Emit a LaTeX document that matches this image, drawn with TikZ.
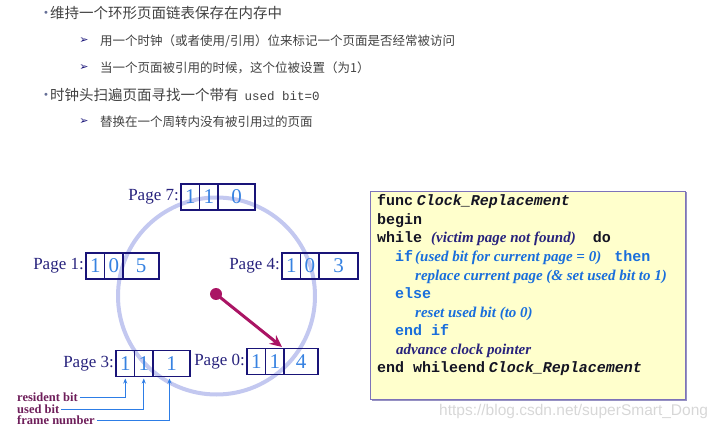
\documentclass[tikz,border=0pt]{standalone}
\usepackage{fontspec}
\setmainfont{Liberation Serif}
\setmonofont{Liberation Mono}
\newfontfamily\cjk{Noto Sans CJK SC}
\newfontfamily\dejavu{DejaVu Sans}
\newfontfamily\arialf{Liberation Sans}
\usetikzlibrary{arrows.meta}
\definecolor{navyc}{RGB}{40,35,125}
\definecolor{boxc}{RGB}{25,20,120}
\definecolor{digitc}{RGB}{55,130,225}
\definecolor{ringc}{RGB}{195,200,240}
\definecolor{ptrc}{RGB}{170,20,100}
\definecolor{bitc}{RGB}{110,30,90}
\definecolor{linkc}{RGB}{45,125,230}
\definecolor{codebg}{RGB}{255,255,204}
\definecolor{codeframe}{RGB}{125,115,185}
\definecolor{codeshadow}{RGB}{150,145,195}
\definecolor{kwc}{RGB}{20,20,35}
\definecolor{bluec}{RGB}{25,110,220}
\definecolor{textc}{RGB}{65,65,65}
\definecolor{bulletc}{RGB}{100,110,150}
\definecolor{wmc}{RGB}{215,215,215}
\newcommand{\pagecells}[8]{%
  \node[cell, minimum width=18.5pt] (#1a) at (#2,#3) {#4};
  \node[cell, minimum width=18.5pt] (#1b) at (#1a.east) {#5};
  \node[cell, minimum width=#8pt] (#1c) at (#1b.east) {#6};
  \node[plabel] (#1l) at (#1a.west) {#7};
}
\newcommand{\kwf}[1]{{\ttfamily\bfseries #1}}
\newcommand{\kwi}[1]{{\ttfamily\bfseries\itshape #1}}
\newcommand{\tbi}[1]{{\rmfamily\bfseries\itshape #1}}
\begin{document}
\begin{tikzpicture}[x=1pt,y=-1pt,
  cell/.style={draw=boxc, line width=1.6pt, minimum height=26pt, inner sep=0pt, outer sep=0pt, text=digitc, font=\fontsize{21}{21}\selectfont, anchor=west},
  plabel/.style={text=navyc, font=\fontsize{17}{17}\selectfont, inner sep=2pt, anchor=east},
  bitlabel/.style={text=bitc, font=\bfseries\fontsize{12.5}{12.5}\selectfont, inner sep=2pt, anchor=west},
  link/.style={draw=linkc, line width=0.9pt, -{Stealth[length=5pt,width=4pt]}},
  codeline/.style={anchor=base west, inner sep=0pt, font=\fontsize{15}{15}\selectfont},
  cjkmain/.style={anchor=west, inner sep=0pt, text=textc, font=\cjk\fontsize{14.5}{14.5}\selectfont},
  cjksub/.style={anchor=west, inner sep=0pt, text=textc, font=\cjk\fontsize{12.5}{12.5}\selectfont},
  dot/.style={anchor=center, inner sep=0pt, text=bulletc, font=\dejavu\fontsize{10}{10}\selectfont},
  arrowmark/.style={anchor=center, inner sep=0pt, text=boxc, font=\dejavu\fontsize{11}{11}\selectfont}
]
\useasboundingbox (0,0) rectangle (722,427);

% top text
\node[dot] (b1) at (46,14) {•};
\node[cjkmain] (t1) at (50,13) {维持一个环形页面链表保存在内存中};
\node[arrowmark] (a1) at (84,41) {➢};
\node[cjksub] (t2) at (100,41) {用一个时钟（或者使用/引用）位来标记一个页面是否经常被访问};
\node[arrowmark] (a2) at (84,68) {➢};
\node[cjksub] (t3) at (100,68) {当一个页面被引用的时候，这个位被设置（为1）};
\node[dot] (b2) at (46,96) {•};
\node[cjkmain] (t4) at (50,95) {时钟头扫遍页面寻找一个带有\hspace{0.4em}{\ttfamily\fontsize{12.5}{12.5}\selectfont used bit=0}};
\node[arrowmark] (a3) at (84,122) {➢};
\node[cjksub] (t5) at (100,122) {替换在一个周转内没有被引用过的页面};

% clock ring
\node[circle, draw=ringc, line width=4pt, minimum size=197pt, inner sep=0pt] (clock) at (216.5,296) {};

% pages
\pagecells{p7}{181}{197}{1}{1}{0}{Page 7:}{37}
\pagecells{p1}{86}{266}{1}{0}{5}{Page 1:}{36}
\pagecells{p4}{282}{266}{1}{0}{3}{Page 4:}{39}
\pagecells{p3}{116}{363.5}{1}{1}{1}{Page 3:}{37}
\pagecells{p0}{247}{361.5}{1}{1}{4}{Page 0:}{34}

% pointer
\node[circle, fill=ptrc, minimum size=12pt, inner sep=0pt] (hub) at (216,294) {};
\coordinate (tip) at (282,347);
\draw[ptrc, line width=3pt, -{Stealth[length=12pt,width=11pt]}] (hub.center) -- (tip);

% bit labels
\node[bitlabel] (rb) at (15,397.5) {resident bit};
\node[bitlabel] (ub) at (15,409.5) {used bit};
\node[bitlabel] (fn) at (15,420.5) {frame number};
\draw[link] (rb.east) -| ([yshift=-2pt]p3a.south);
\draw[link] (ub.east) -| ([yshift=-2pt]p3b.south);
\draw[link] (fn.east) -| ([xshift=-2pt,yshift=-2pt]p3c.south);

% code box
\fill[codeshadow] (371.5,192.5) rectangle (686.5,400.5);
\node[draw=codeframe, fill=codebg, line width=1pt, minimum width=315pt, minimum height=208pt, inner sep=0pt, anchor=north west] (code) at (370,191) {};
\node[codeline, text=kwc] (c1) at (377,206) {\kwf{func} \kwi{Clock\_Replacement}};
\node[codeline, text=kwc] (c2) at (377,224.5) {\kwf{begin}};
\node[codeline, text=kwc] (c3) at (377,243) {\kwf{while}\hspace{9pt}{\color{navyc}\tbi{(victim page not found)}}\hspace{17pt}\kwf{do}};
\node[codeline, text=bluec] (c4) at (395,261.5) {\kwf{if}\hspace{2pt}\tbi{(used bit for current page = 0)}\hspace{13pt}\kwf{then}};
\node[codeline, text=bluec] (c5) at (415,280.5) {\tbi{replace current page (\& set used bit to 1)}};
\node[codeline, text=bluec] (c6) at (395,298.5) {\kwf{else}};
\node[codeline, text=bluec] (c7) at (415,317) {\tbi{reset used bit (to 0)}};
\node[codeline, text=bluec] (c8) at (395,335) {\kwf{end if}};
\node[codeline, text=navyc] (c9) at (396,354) {\tbi{advance clock pointer}};
\node[codeline, text=kwc] (c10) at (377,372) {\kwf{end whileend} \kwi{Clock\_Replacement}};

% watermark
\node[anchor=west, inner sep=0pt, text=wmc, font=\arialf\fontsize{15.5}{15.5}\selectfont] (wm) at (439,411) {https://blog.csdn.net/superSmart\_Dong};
\end{tikzpicture}
\end{document}
